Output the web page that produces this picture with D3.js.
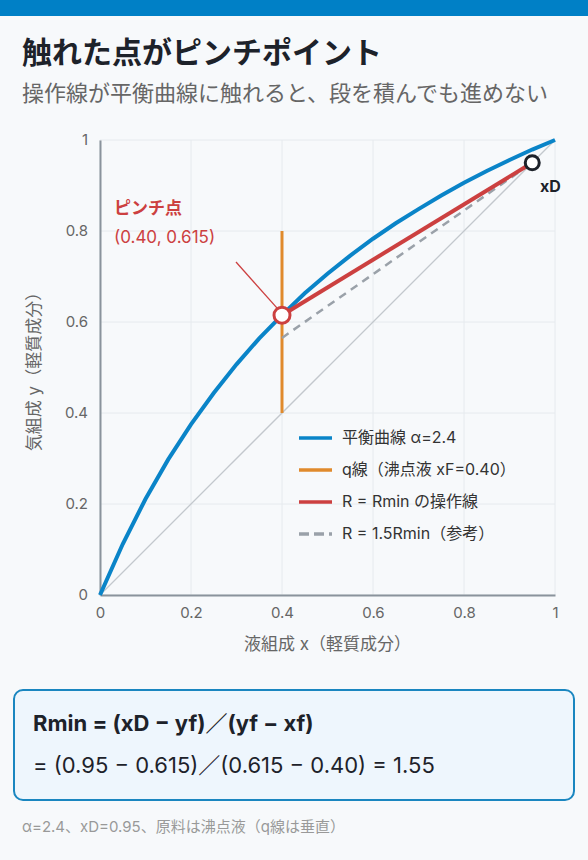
<!DOCTYPE html>
<html><head><meta charset="utf-8">
<script src="https://cdn.jsdelivr.net/npm/d3@7"></script>
<style>
body{margin:0;background:#f7f9fb;font-family:Inter,"Noto Sans CJK JP",sans-serif;}
</style></head>
<body><svg id="chart" width="588" height="860"></svg>
<script>
// equilibrium curve (alpha = 2.4)
const eqX = [0, 0.05, 0.1, 0.15, 0.2, 0.25, 0.3, 0.35, 0.4, 0.45, 0.5, 0.55, 0.6, 0.65, 0.7, 0.75, 0.8, 0.85, 0.9, 0.95, 1];
const eqY = [0, 0.112, 0.211, 0.298, 0.375, 0.444, 0.507, 0.564, 0.615, 0.663, 0.706, 0.746, 0.783, 0.817, 0.848, 0.878, 0.906, 0.932, 0.956, 0.979, 1];
const qLine = [[0.4, 0.4], [0.4, 0.8]];
const rminLine = [[0.4, 0.615], [0.95, 0.95]];
const r15Line = [[0.4, 0.565], [0.95, 0.95]];
const diag = [[0, 0], [1, 1]];
const pinch = [0.4, 0.615];
const xD = [0.95, 0.95];
const ticks = [0, 0.2, 0.4, 0.6, 0.8, 1];
const legendLabels = ["平衡曲線 α=2.4", "q線（沸点液 xF=0.40）", "R = Rmin の操作線", "R = 1.5Rmin（参考）"];

const svg = d3.select("#chart").attr("font-family", "Inter, 'Noto Sans CJK JP', sans-serif");
const x = d3.scaleLinear().domain([0, 1]).range([100, 555]);
const y = d3.scaleLinear().domain([0, 1]).range([595, 140]);
const line = d3.line().x(d => x(d[0])).y(d => y(d[1]));

svg.append("rect").attr("width", 588).attr("height", 16).attr("fill", "#0080c6");
svg.append("text").attr("x", 22).attr("y", 63).attr("font-size", 30).attr("font-weight", 700)
  .attr("fill", "#1d222a").text("触れた点がピンチポイント");
svg.append("text").attr("x", 22).attr("y", 101).attr("font-size", 22).attr("fill", "#666")
  .text("操作線が平衡曲線に触れると、段を積んでも進めない");

// grid
const grid = svg.append("g").attr("stroke", "#e6eaee");
ticks.forEach(t => {
  grid.append("line").attr("x1", x(t)).attr("x2", x(t)).attr("y1", y(0)).attr("y2", y(1));
  grid.append("line").attr("x1", x(0)).attr("x2", x(1)).attr("y1", y(t)).attr("y2", y(t));
});

const fmt = d => d === 0 || d === 1 ? String(d) : d.toFixed(1);
const xAxis = svg.append("g").attr("transform", `translate(0,${y(0)})`)
  .call(d3.axisBottom(x).tickValues(ticks).tickFormat(fmt).tickSize(0).tickPadding(12));
const yAxis = svg.append("g").attr("transform", `translate(${x(0)},0)`)
  .call(d3.axisLeft(y).tickValues(ticks).tickFormat(fmt).tickSize(0).tickPadding(12));
[xAxis, yAxis].forEach(a => {
  a.select(".domain").attr("stroke", "#8a939c").attr("stroke-width", 2);
  a.selectAll("text").attr("font-size", 15).attr("fill", "#666").attr("font-family", "Inter, sans-serif");
});
svg.append("text").attr("x", x(0.5)).attr("y", 650).attr("text-anchor", "middle")
  .attr("font-size", 17).attr("fill", "#666").text("液組成 x（軽質成分）");
svg.append("text").attr("transform", `translate(40,${y(0.5)}) rotate(-90)`).attr("text-anchor", "middle")
  .attr("font-size", 17).attr("fill", "#666").text("気組成 y（軽質成分）");

svg.append("path").attr("d", line(diag)).attr("stroke", "#c3c8cd").attr("stroke-width", 1.3).attr("fill", "none");
svg.append("path").attr("d", line(eqX.map((v, i) => [v, eqY[i]]))).attr("stroke", "#0a84c8").attr("stroke-width", 4).attr("fill", "none");
svg.append("path").attr("d", line(qLine)).attr("stroke", "#e08a2c").attr("stroke-width", 3).attr("fill", "none");
svg.append("path").attr("d", line(r15Line)).attr("stroke", "#9aa1a9").attr("stroke-width", 2.5).attr("stroke-dasharray", "8,6").attr("fill", "none");
svg.append("path").attr("d", line(rminLine)).attr("stroke", "#cc4040").attr("stroke-width", 4).attr("fill", "none");

// annotation
svg.append("line").attr("x1", 236).attr("y1", 262).attr("x2", x(pinch[0]) - 4).attr("y2", y(pinch[1]) - 6)
  .attr("stroke", "#cc4040").attr("stroke-width", 1.3);
svg.append("circle").attr("cx", x(pinch[0])).attr("cy", y(pinch[1])).attr("r", 8)
  .attr("fill", "#fff").attr("stroke", "#cc4040").attr("stroke-width", 3);
svg.append("circle").attr("cx", x(xD[0])).attr("cy", y(xD[1])).attr("r", 7)
  .attr("fill", "#fff").attr("stroke", "#1d222a").attr("stroke-width", 3);
svg.append("text").attr("x", 540).attr("y", 192).attr("font-size", 16).attr("font-weight", 700).attr("fill", "#1d222a").text("xD");
svg.append("text").attr("x", 114).attr("y", 214).attr("font-size", 17).attr("font-weight", 700).attr("fill", "#cc4040").text("ピンチ点");
svg.append("text").attr("x", 114).attr("y", 243).attr("font-size", 17).attr("fill", "#cc4040").text("(0.40, 0.615)");

// legend
const lg = svg.append("g");
const lgStyles = [["#0a84c8", null], ["#e08a2c", null], ["#cc4040", null], ["#9aa1a9", "10,5"]];
legendLabels.forEach((t, i) => {
  const yy = 438 + i * 32;
  lg.append("line").attr("x1", 299).attr("x2", 332).attr("y1", yy).attr("y2", yy)
    .attr("stroke", lgStyles[i][0]).attr("stroke-width", 3.5).attr("stroke-dasharray", lgStyles[i][1]);
  lg.append("text").attr("x", 342).attr("y", yy + 5).attr("font-size", 16).attr("fill", "#333").text(t);
});

// formula box
svg.append("rect").attr("x", 14).attr("y", 690).attr("width", 560).attr("height", 110).attr("rx", 9)
  .attr("fill", "#eef6fd").attr("stroke", "#1a86c0").attr("stroke-width", 2);
svg.append("text").attr("x", 33).attr("y", 731).attr("font-size", 22).attr("font-weight", 700).attr("fill", "#1d222a")
  .text("Rmin = (xD − yf)／(yf − xf)");
svg.append("text").attr("x", 33).attr("y", 773).attr("font-size", 22).attr("fill", "#1d222a")
  .text("= (0.95 − 0.615)／(0.615 − 0.40) = 1.55");
svg.append("text").attr("x", 22).attr("y", 832).attr("font-size", 15).attr("fill", "#999")
  .text("α=2.4、xD=0.95、原料は沸点液（q線は垂直）");
</script></body></html>
